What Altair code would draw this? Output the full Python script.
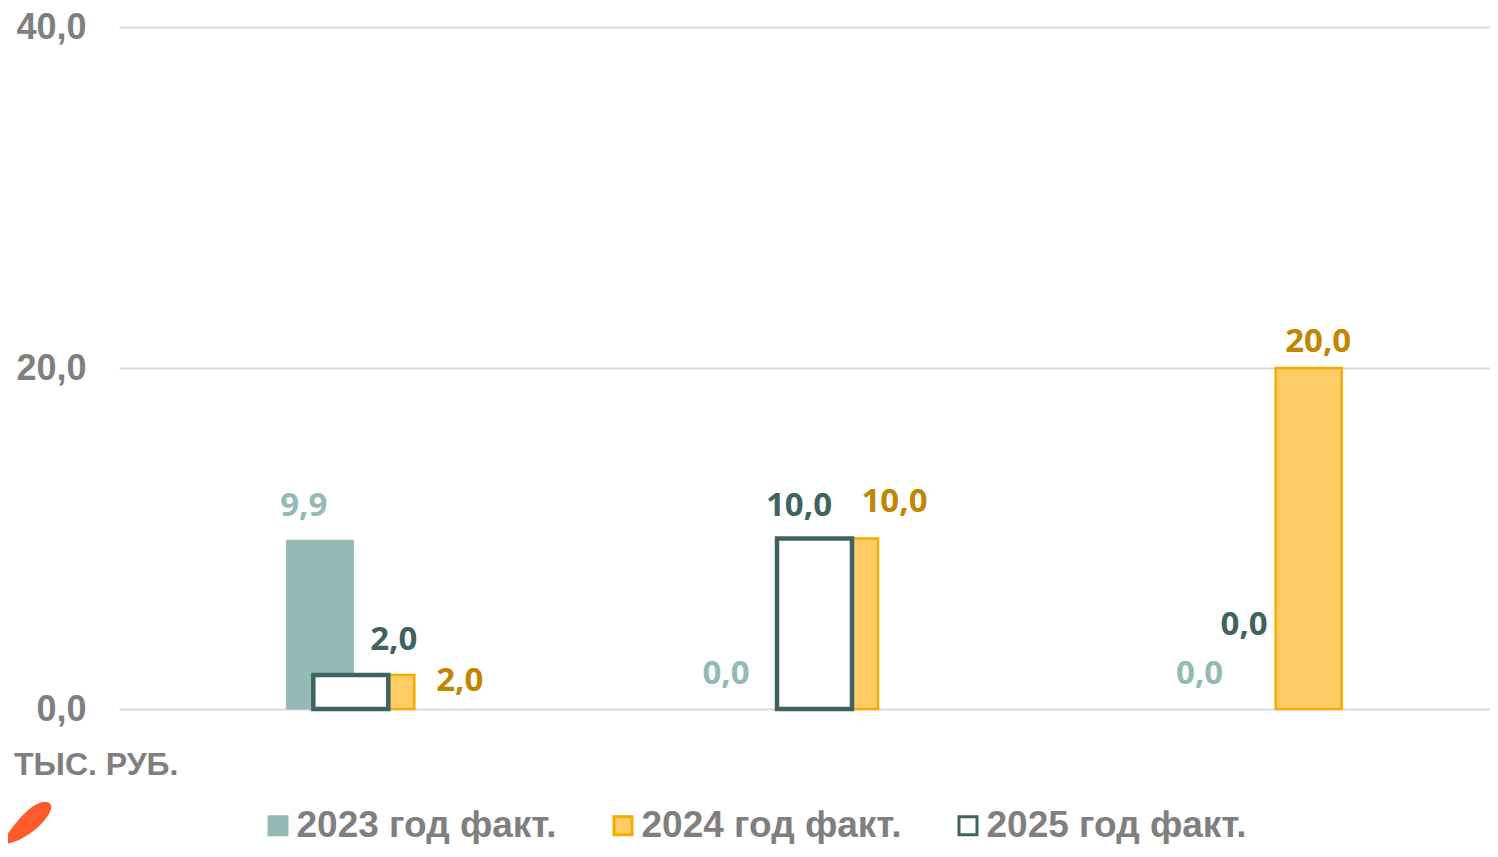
import altair as alt
import pandas as pd

categories = ["A", "B", "C"]
series_names = ["2023 год факт.", "2024 год факт.", "2025 год факт."]
values_2023 = [9.9, 0.0, 0.0]
values_2024 = [2.0, 10.0, 20.0]
values_2025 = [2.0, 10.0, 0.0]
y_ticks = [0, 20, 40]
unit_label = "ТЫС. РУБ."

fills = ["#93BAB5", "#FFCC66", "#FFFFFF"]
strokes = ["#93BAB5", "#F5AB00", "#3F6360"]
widths = [1, 2.5, 4.5]
label_colors = ["#93BAB5", "#C08600", "#3F6360"]
bar_sizes = [67, 66, 75]
bar_offsets = [-31, 30.5, 0]
# label offset from group centre / value position, per series and category
label_dx = [[-47, -88.5, -78.5], [109, 80, 40], [43, -15.5, -34]]
label_dy = [[-34, -35, -35], [6, -37, -26], [-34.5, -32.5, -84.5]]

all_values = [values_2023, values_2024, values_2025]
frames = [pd.DataFrame({"cat": categories, "series": s, "value": v}) for s, v in zip(series_names, all_values)]

x_scale = alt.Scale(domain=categories, range=[0, 1391], paddingInner=0, paddingOuter=0)
y_scale = alt.Scale(domain=[0, 40], nice=False)
legend = alt.Legend(
    orient="none", legendX=140.5, legendY=780, title=None, direction="horizontal", columns=3,
    columnPadding=47, symbolType="square", symbolSize=324, symbolStrokeWidth=3, labelFont="Liberation Sans",
    labelFontSize=37, labelFontWeight="bold", labelColor="#7F7F7F", labelOffset=0, padding=0, labelLimit=400,
)

y_axis = alt.Axis(
    values=y_ticks, title=None, domain=False, ticks=False, labelPadding=33, labelFontSize=36,
    labelFont="Liberation Sans", labelFontWeight="bold", labelColor="#7F7F7F",
    gridColor="#D9D9D9", gridWidth=2,
    labelExpr="replace(format(datum.value, '.1f'), '.', ',')",
)

layers = []
grid_base = alt.Chart(frames[0]).mark_bar(opacity=0).encode(
    x=alt.X("cat:N", scale=x_scale, axis=None),
    y=alt.Y("value:Q", scale=y_scale, axis=y_axis),
)
layers.append(grid_base)

for i, df in enumerate(frames):
    layers.append(
        alt.Chart(df[df["value"] > 0]).mark_bar(size=bar_sizes[i], xOffset=bar_offsets[i]).encode(
            x=alt.X("cat:N", scale=x_scale, axis=None),
            y=alt.Y("value:Q", scale=y_scale, axis=y_axis),
            fill=alt.Fill("series:N", scale=alt.Scale(domain=series_names, range=fills), legend=legend),
            stroke=alt.Stroke("series:N", scale=alt.Scale(domain=series_names, range=strokes), legend=legend),
            strokeWidth=alt.value(widths[i]),
        )
    )

for i, df in enumerate(frames):
    for j in range(len(categories)):
        row = df.iloc[[j]].copy()
        row["label"] = row["value"].map(lambda v: f"{v:.1f}".replace(".", ","))
        layers.append(
            alt.Chart(row).mark_text(
                font="Open Sans", fontSize=33, fontWeight="bold", color=label_colors[i],
                dx=label_dx[i][j], dy=label_dy[i][j],
            ).encode(
                x=alt.X("cat:N", scale=x_scale, axis=None),
                y=alt.Y("value:Q", scale=y_scale, axis=y_axis),
                text="label:N",
            )
        )

layers.append(
    alt.Chart(pd.DataFrame({"t": [unit_label]})).mark_text(
        font="Liberation Sans", fontSize=32, fontWeight="bold", color="#7F7F7F", align="left", baseline="middle",
    ).encode(x=alt.value(-105), y=alt.value(738), text="t:N")
)

petal_a = "M-118,134 C-108,120 -90,94 -75,93 C-66,92 -66,100 -72,108 C-82,122 -100,134 -118,136 Z"
layers.append(
    alt.Chart(pd.DataFrame({"k": [0]})).mark_point(shape=petal_a, size=4, filled=True, color="#FF5A2B", opacity=1)
    .encode(x=alt.value(0), y=alt.value(682))
)

chart = (
    alt.layer(*layers)
    .resolve_scale(x="shared", y="shared")
    .properties(
        width=1371, height=682, background="white",
        padding={"left": 111, "top": 19, "right": 0, "bottom": 135},
        autosize=alt.AutoSizeParams(type="none"),
    )
    .configure_view(stroke=None)
)
chart.save("out.html", embed_options={"renderer": "svg", "actions": False})
